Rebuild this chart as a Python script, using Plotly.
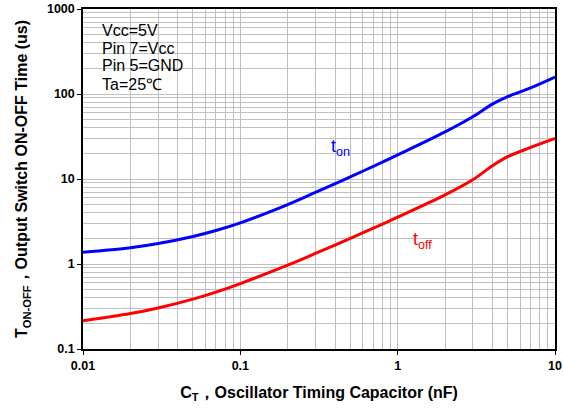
import plotly.graph_objects as go

ct_nf = [0.01, 0.02, 0.03, 0.05, 0.07, 0.1, 0.2, 0.3, 0.5, 0.7, 1, 2, 3, 4, 5, 7, 10]
t_on = [1.37, 1.55, 1.74, 2.11, 2.48, 3.05, 5.0, 6.95, 10.6, 14.1, 19.2, 35.8, 54, 76, 93, 118, 158]
t_off = [0.215, 0.261, 0.304, 0.386, 0.467, 0.589, 0.97, 1.33, 2.0, 2.64, 3.56, 6.5, 9.8, 14.3, 18.3, 23.5, 30]

x_major = [0.01, 0.1, 1, 10]
x_labels = ["0.01", "0.1", "1", "10"]
y_major = [0.1, 1, 10, 100, 1000]
y_labels = ["0.1", "1", "10", "100", "1000"]

def minors(lo_exp, hi_exp):
    out = []
    for e in range(lo_exp, hi_exp):
        for m in range(2, 10):
            out.append(m * 10 ** e)
    return out

FONT = "Liberation Sans, Arial, sans-serif"
GRID = "#c0c0c0"

fig = go.Figure()
fig.add_trace(go.Scatter(x=ct_nf, y=t_on, mode="lines", line=dict(color="#0000ff", width=3, shape="spline", smoothing=1.0), showlegend=False))
fig.add_trace(go.Scatter(x=ct_nf, y=t_off, mode="lines", line=dict(color="#ff0000", width=3, shape="spline", smoothing=1.0), showlegend=False))

axis_common = dict(
    type="log", showline=True, linecolor="black", linewidth=1.5, mirror=True,
    ticks="outside", ticklen=4, tickcolor="black", tickmode="array",
    showgrid=True, gridcolor=GRID, gridwidth=1, zeroline=False, automargin=False,
    tickfont=dict(family=FONT, size=12.5, color="black", weight="bold"),
)

fig.update_xaxes(**axis_common, range=[-2, 1], tickvals=x_major, ticktext=x_labels,
                 minor=dict(tickmode="array", tickvals=minors(-2, 1), showgrid=True, gridcolor=GRID, ticks=""),
                 title=dict(text="C<sub>T</sub>，Oscillator Timing Capacitor (nF)",
                            font=dict(family=FONT, size=16, color="black", weight="bold")))
fig.update_yaxes(**axis_common, range=[-1, 3], tickvals=y_major, ticktext=y_labels,
                 minor=dict(tickmode="array", tickvals=minors(-1, 3), showgrid=True, gridcolor=GRID, ticks=""),
                 title=dict(text="T<sub>ON-OFF</sub>，Output Switch ON-OFF Time (us)",
                            font=dict(family=FONT, size=16, color="black", weight="bold")))

notes = ["Vcc=5V", "Pin 7=Vcc", "Pin 5=GND", "Ta=25\u2103"]
for i, t in enumerate(notes):
    fig.add_annotation(xref="paper", yref="paper", x=19 / 472, y=1 - (21 + i * 18) / 340,
                       text=t, showarrow=False, xanchor="left", yanchor="middle",
                       xshift=-2, font=dict(family=FONT, size=16, color="black"))

fig.add_annotation(x=-0.424, y=1.365, xref="x", yref="y", text="t<sub>on</sub>", showarrow=False,
                   xanchor="left", yanchor="middle", xshift=-2, font=dict(family=FONT, size=18, color="#0000ff"))
fig.add_annotation(x=0.0975, y=0.282, xref="x", yref="y", text="t<sub>off</sub>", showarrow=False,
                   xanchor="left", yanchor="middle", xshift=-2, font=dict(family=FONT, size=18, color="#ff0000"))

fig.update_layout(width=563, height=410, margin=dict(l=83, r=8, t=9, b=61),
                  plot_bgcolor="white", paper_bgcolor="white", font=dict(family=FONT))

fig.write_html("out.html", config={"displayModeBar": False},
               post_script="document.body.style.margin='0px';")
